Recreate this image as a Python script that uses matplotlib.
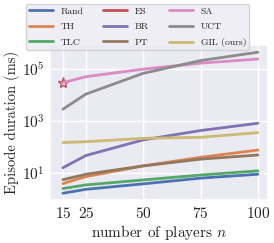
import matplotlib
matplotlib.use("Agg")
import matplotlib.pyplot as plt
import seaborn as sns
import numpy as np

sns.set_theme(style="darkgrid")
plt.rcParams['font.family'] = ['cmr10']
plt.rcParams['mathtext.fontset'] = 'cm'
plt.rcParams['axes.formatter.use_mathtext'] = True

n_players = [15, 25, 50, 75, 100]
log_rand = [0.22, 0.37, 0.58, 0.80, 0.95]
log_th = [0.59, 0.86, 1.27, 1.60, 1.88]
log_tlc = [0.40, 0.54, 0.73, 0.92, 1.08]
log_es = [4.47]
log_br = [1.20, 1.67, 2.27, 2.63, 2.91]
log_pt = [0.74, 0.95, 1.27, 1.53, 1.69]
log_sa = [4.47, 4.70, 4.99, 5.22, 5.38]
log_uct = [3.45, 4.03, 4.83, 5.32, 5.64]
log_gil = [2.17, 2.20, 2.33, 2.37, 2.55]

labels = ["Rand", "TH", "TLC", "ES", "BR", "PT", "SA", "UCT", "GIL (ours)"]
series = [log_rand, log_th, log_tlc, log_es, log_br, log_pt, log_sa, log_uct, log_gil]
colors = sns.color_palette("deep", 9)

fig = plt.figure(figsize=(2.74, 2.43), dpi=100)
ax = fig.add_axes([0.182, 0.177, 0.796, 0.638])

for lab, s, c in zip(labels, series, colors):
    xs = n_players[:len(s)]
    ys = [10 ** v for v in s]
    ax.plot(xs, ys, color=c, lw=2, label=lab)
    if len(s) == 1:
        ax.plot(xs, ys, color=c, marker='*', ms=8, mfc='none', mew=1, ls='none')

ax.set_yscale('log')
ax.set_ylim(10 ** -0.04, 10 ** 5.92)
ax.set_yticks([1e1, 1e3, 1e5])
ax.yaxis.set_minor_locator(matplotlib.ticker.NullLocator())
ax.set_xticks([15, 25, 50, 75, 100])
ax.set_xlim(9.3, 104.4)
ax.tick_params(axis='both', labelsize=11, length=0)
ax.tick_params(axis='y', pad=3.5)
ax.tick_params(axis='x', pad=4.5)
ax.set_xlabel("number of players $n$", fontsize=11, labelpad=1)
ax.set_ylabel("Episode duration (ms)", fontsize=10.5, labelpad=1.5)

handles, labs = ax.get_legend_handles_labels()
fig.legend(handles, labs, loc='upper center', bbox_to_anchor=(0.502, 1.004),
           ncol=3, fontsize=7, handlelength=2.5, labelspacing=0.7,
           borderpad=0.3, frameon=True)

fig.savefig("out.png", dpi=100)
